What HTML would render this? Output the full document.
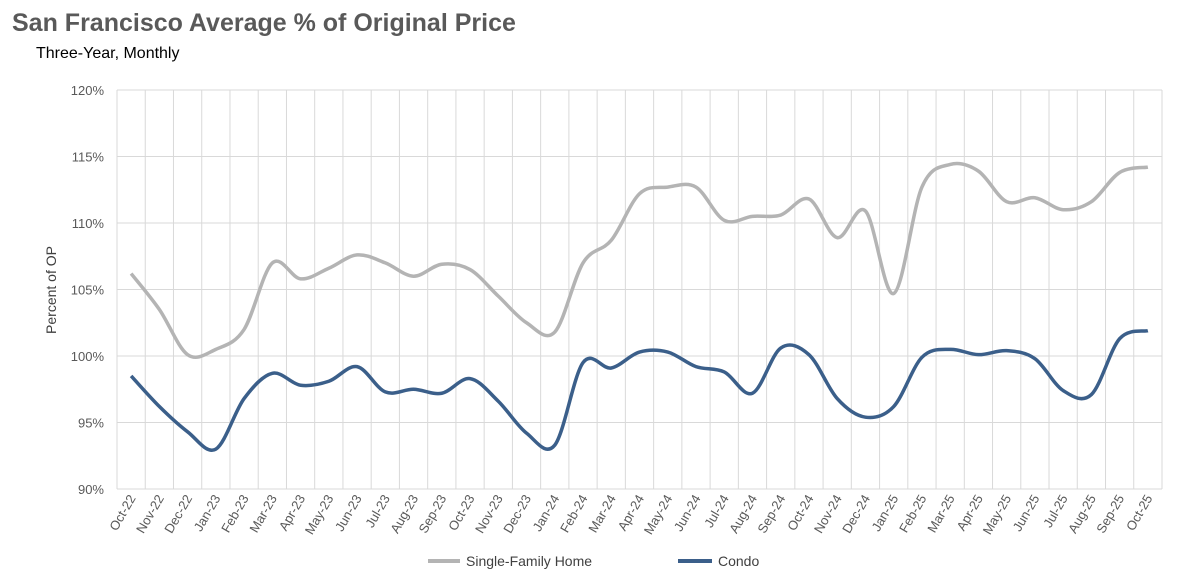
<!DOCTYPE html>
<html><head><meta charset="utf-8"><style>
body{margin:0;background:#fff;font-family:"Liberation Sans",sans-serif;}
svg text{font-family:"Liberation Sans",sans-serif;}
</style></head><body>
<svg id="chart" width="1184" height="580">
<text x="12" y="31" font-size="25" font-weight="bold" fill="#595959">San Francisco Average % of Original Price</text>
<text x="36" y="58" font-size="16" fill="#000">Three-Year, Monthly</text>
<text transform="translate(56,290) rotate(-90)" text-anchor="middle" font-size="14" fill="#404040">Percent of OP</text>
<g id="grid"></g><g id="series"></g><g id="labels"></g>
<g>
<line x1="428" y1="561" x2="460" y2="561" stroke="#b4b4b4" stroke-width="4"/>
<text x="466" y="566" font-size="14" fill="#404040">Single-Family Home</text>
<line x1="678" y1="561" x2="712" y2="561" stroke="#3b5f8a" stroke-width="4"/>
<text x="718" y="566" font-size="14" fill="#404040">Condo</text>
</g>
</svg>
<script>
const months=["Oct-22","Nov-22","Dec-22","Jan-23","Feb-23","Mar-23","Apr-23","May-23","Jun-23","Jul-23","Aug-23","Sep-23","Oct-23","Nov-23","Dec-23","Jan-24","Feb-24","Mar-24","Apr-24","May-24","Jun-24","Jul-24","Aug-24","Sep-24","Oct-24","Nov-24","Dec-24","Jan-25","Feb-25","Mar-25","Apr-25","May-25","Jun-25","Jul-25","Aug-25","Sep-25","Oct-25"];
const sfh=[106.2,103.5,100.1,100.5,102,107,105.8,106.6,107.6,107,106,106.9,106.5,104.5,102.5,101.8,107,108.7,112.2,112.7,112.7,110.2,110.5,110.6,111.8,108.9,110.9,104.7,112.7,114.4,113.9,111.6,111.9,111,111.6,113.8,114.2];
const condo=[98.5,96.2,94.3,93,96.8,98.7,97.8,98.1,99.2,97.3,97.5,97.2,98.3,96.6,94.2,93.3,99.5,99.1,100.3,100.3,99.2,98.8,97.2,100.6,100.1,96.8,95.4,96.2,99.9,100.5,100.1,100.4,99.8,97.4,97.1,101.3,101.9];
const yTicks=[90,95,100,105,110,115,120];
const X0=117,X1=1162,Y0=489,Y1=90,ns="http://www.w3.org/2000/svg";
const bw=(X1-X0)/months.length;
const x=i=>X0+bw*(i+0.5);
const y=v=>Y0-(v-90)/30*(Y0-Y1);
function mk(tag,attrs,parent){const e=document.createElementNS(ns,tag);for(const k in attrs)e.setAttribute(k,attrs[k]);parent.appendChild(e);return e;}
const grid=document.getElementById('grid'),labels=document.getElementById('labels'),series=document.getElementById('series');
yTicks.forEach(t=>{
 const l=mk('line',{x1:X0,x2:X1,y1:y(t),y2:y(t),stroke:'#d9d9d9','stroke-width':1},grid);
 
 
 const tx=mk('text',{x:104,y:y(t)+5,'text-anchor':'end','font-size':13,fill:'#595959'},labels);
 tx.textContent=t+'%';
 
 
});
for(let i=0;i<=months.length;i++){
 const l=mk('line',{x1:X0+bw*i,x2:X0+bw*i,y1:Y1,y2:Y0,stroke:'#d9d9d9','stroke-width':1},grid);
 
 
}
months.forEach((m,i)=>{
 const tx=mk('text',{transform:`translate(${x(i)+5},${Y0+9}) rotate(-60)`,'text-anchor':'end','font-size':13,fill:'#595959'},labels);
 tx.textContent=m;
 
 
});
function path(vals){
 const p=vals.map((v,i)=>[x(i),y(v)]);
 let d=`M${p[0][0]},${p[0][1]}`;
 for(let i=0;i<p.length-1;i++){
  const a=p[Math.max(i-1,0)],b=p[i],c=p[i+1],e=p[Math.min(i+2,p.length-1)];
  const t=1/6;
  d+=` C${b[0]+(c[0]-a[0])*t},${b[1]+(c[1]-a[1])*t} ${c[0]-(e[0]-b[0])*t},${c[1]-(e[1]-b[1])*t} ${c[0]},${c[1]}`;
 }
 return d;
}
const s1=mk('path',{d:path(sfh),fill:'none',stroke:'#b4b4b4','stroke-width':3.5},series);


const s2=mk('path',{d:path(condo),fill:'none',stroke:'#3b5f8a','stroke-width':3.5},series);


</script>
</body></html>
